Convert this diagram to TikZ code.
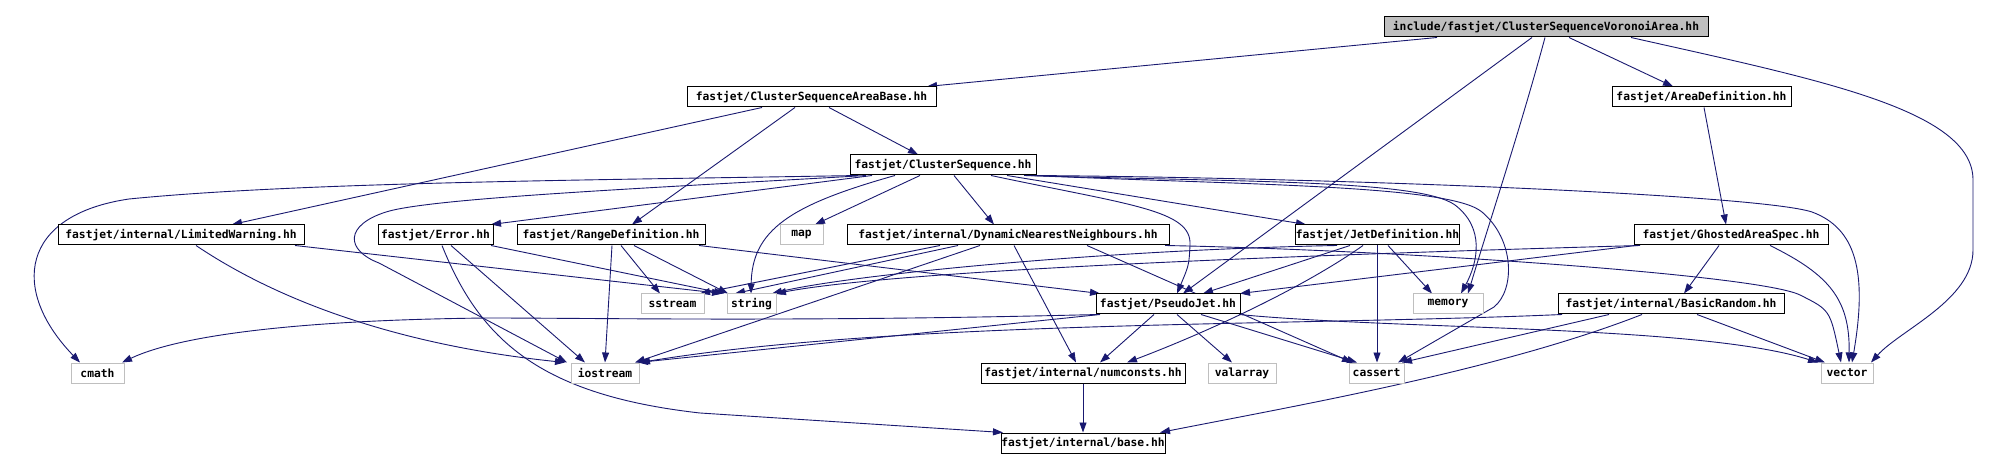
\documentclass[tikz,border=0pt]{standalone}
\usepackage{fontspec}
\setmonofont{DejaVu Sans Mono}
\usetikzlibrary{arrows.meta}
\definecolor{edgecol}{HTML}{191970}
\definecolor{sysgray}{HTML}{BFBFBF}
\pgfdeclarelayer{bglayer}
\pgfdeclarelayer{edgelayer}
\pgfsetlayers{bglayer,edgelayer,main}
\begin{document}
\begin{tikzpicture}[x=1pt,y=-1pt,
  hdr/.style={draw=black, fill=white, line width=1pt, minimum height=20pt, inner sep=0pt,
    font=\ttfamily\bfseries\fontsize{11.3}{13}\selectfont},
  sys/.style={hdr, draw=sysgray},
  root/.style={hdr, fill=sysgray},
  dep/.style={draw=edgecol, line width=0.9pt, -{Triangle[length=10pt,width=7pt]}}]
\begin{pgfonlayer}{bglayer}
\fill[white] (0,0) rectangle (1992,470);
\end{pgfonlayer}
\useasboundingbox (0,0) rectangle (1992,470);
% nodes
\node[root, minimum width=324pt] (top) at (1546,27) {include/fastjet/ClusterSequenceVoronoiArea.hh};
\node[hdr, minimum width=249pt] (csab) at (811.5,97) {fastjet/ClusterSequenceAreaBase.hh};
\node[hdr, minimum width=179pt] (areadef) at (1701.5,97) {fastjet/AreaDefinition.hh};
\node[hdr, minimum width=186pt] (cs) at (943,165) {fastjet/ClusterSequence.hh};
\node[hdr, minimum width=246pt] (lw) at (181,235) {fastjet/internal/LimitedWarning.hh};
\node[hdr, minimum width=115pt] (error) at (435.5,235) {fastjet/Error.hh};
\node[hdr, minimum width=188pt] (rangedef) at (611,235) {fastjet/RangeDefinition.hh};
\node[sys, minimum width=43pt] (map) at (801.5,235) {map};
\node[hdr, minimum width=322pt] (dnn) at (1008,235) {fastjet/internal/DynamicNearestNeighbours.hh};
\node[hdr, minimum width=163pt] (jetdef) at (1377.5,235) {fastjet/JetDefinition.hh};
\node[hdr, minimum width=194pt] (ghosted) at (1731,235) {fastjet/GhostedAreaSpec.hh};
\node[sys, minimum width=63pt] (sstream) at (672.5,304) {sstream};
\node[sys, minimum width=49pt] (string) at (751.5,304) {string};
\node[hdr, minimum width=144pt] (pj) at (1168,304) {fastjet/PseudoJet.hh};
\node[sys, minimum width=70pt] (memory) at (1448,304) {memory};
\node[hdr, minimum width=226pt] (br) at (1671,304) {fastjet/internal/BasicRandom.hh};
\node[sys, minimum width=53pt] (cmath) at (97.5,373) {cmath};
\node[sys, minimum width=68pt] (iostream) at (605,373) {iostream};
\node[hdr, minimum width=204pt] (numconsts) at (1083,373) {fastjet/internal/numconsts.hh};
\node[sys, minimum width=68pt] (valarray) at (1242,373) {valarray};
\node[sys, minimum width=55pt] (cassert) at (1376.5,373) {cassert};
\node[sys, minimum width=52pt] (vector) at (1847,373) {vector};
\node[hdr, minimum width=164pt] (base) at (1083,443) {fastjet/internal/base.hh};
% edges
\begin{pgfonlayer}{edgelayer}
% root
\draw[dep] (top.south -| 1437,0) -- (csab.north -| 927,0);
\draw[dep] (top.south -| 1532,0) -- (pj.north -| 1183,0);
\draw[dep] (top.south -| 1545,0) .. controls (1520,130) and (1490,220) .. (memory.north -| 1468,0);
\draw[dep] (top.south -| 1569,0) -- (areadef.north -| 1673,0);
\draw[dep] (top.south -| 1631,0) .. controls (1820,80) and (1973,110) .. (1973,180) -- (1973,250) .. controls (1973,300) and (1900,330) .. (vector.north -| 1871,0);
\draw[dep] (areadef.south -| 1704,0) -- (ghosted.north -| 1726,0);
% ClusterSequenceAreaBase
\draw[dep] (csab.south -| 762,0) -- (lw.north -| 232,0);
\draw[dep] (csab.south -| 795,0) -- (rangedef.north -| 632,0);
\draw[dep] (csab.south -| 829,0) -- (cs.north -| 918,0);
% ClusterSequence
\draw[dep] (cs.south -| 858,0) .. controls (600,180) and (300,182) .. (129,199) .. controls (20,215) and (10,290) .. (cmath.north -| 80,0);
\draw[dep] (cs.south -| 866,0) .. controls (650,188) and (430,198) .. (386,212) .. controls (345,225) and (345,250) .. (379,263) -- (iostream.north -| 567,0);
\draw[dep] (cs.south -| 872,0) -- (error.north -| 491,0);
\draw[dep] (cs.south -| 895,0) .. controls (790,205) and (752,230) .. (string.north -| 751,0);
\draw[dep] (cs.south -| 920,0) -- (map.north -| 815,0);
\draw[dep] (cs.south -| 954,0) -- (dnn.north -| 994,0);
\draw[dep] (cs.south -| 991,0) .. controls (1130,205) and (1192,210) .. (1190,245) .. controls (1189,265) .. (pj.north -| 1177,0);
\draw[dep] (cs.south -| 1007,0) -- (jetdef.north -| 1306,0);
\draw[dep] (cs.south -| 1024,0) .. controls (1250,182) and (1420,180) .. (1455,205) .. controls (1485,228) and (1478,262) .. (memory.north -| 1461,0);
\draw[dep] (cs.south -| 1030,0) .. controls (1250,185) and (1450,185) .. (1482,212) .. controls (1515,240) and (1515,290) .. (1494,307) -- (cassert.north -| 1398,0);
\draw[dep] (cs.south -| 1034,0) .. controls (1350,178) and (1760,195) .. (1812,212) .. controls (1855,228) and (1868,270) .. (vector.north -| 1852,0);
% LimitedWarning
\draw[dep] (lw.south -| 196,0) .. controls (240,275) and (350,340) .. (iostream.north -| 565,0);
\draw[dep] (lw.south -| 295,0) -- (string.north -| 722,0);
% Error
\draw[dep] (error.south -| 491,0) -- (string.north -| 724,0);
\draw[dep] (error.south -| 451,0) -- (iostream.north -| 585,0);
\draw[dep] (error.south -| 442,0) .. controls (480,340) and (540,395) .. (700,413) -- (base.north -| 1003,0);
% RangeDefinition
\draw[dep] (rangedef.south -| 612,0) -- (iostream.north -| 605,0);
\draw[dep] (rangedef.south -| 621,0) -- (sstream.north -| 660,0);
\draw[dep] (rangedef.south -| 634,0) -- (string.north -| 728,0);
\draw[dep] (rangedef.south -| 699,0) -- (pj.north -| 1100,0);
% DynamicNearestNeighbours
\draw[dep] (dnn.south -| 940,0) -- (sstream.north -| 700,0);
\draw[dep] (dnn.south -| 958,0) -- (string.north -| 735,0);
\draw[dep] (dnn.south -| 980,0) -- (iostream.north -| 635,0);
\draw[dep] (dnn.south -| 1014,0) -- (numconsts.north -| 1076,0);
\draw[dep] (dnn.south -| 1087,0) -- (cassert.north -| 1352,0);
\draw[dep] (dnn.south -| 1165,0) .. controls (1400,250) and (1760,275) .. (1800,295) .. controls (1830,310) .. (vector.north -| 1841,0);
% JetDefinition
\draw[dep] (jetdef.south -| 1337,0) .. controls (1100,250) and (850,275) .. (string.north -| 772,0);
\draw[dep] (jetdef.south -| 1350,0) -- (pj.north -| 1203,0);
\draw[dep] (jetdef.south -| 1363,0) .. controls (1300,290) and (1200,335) .. (numconsts.north -| 1127,0);
\draw[dep] (jetdef.south -| 1377,0) -- (cassert.north -| 1377,0);
\draw[dep] (jetdef.south -| 1388,0) -- (memory.north -| 1432,0);
% GhostedAreaSpec
\draw[dep] (ghosted.south -| 1640,0) .. controls (1300,255) and (900,270) .. (string.north -| 776,0);
\draw[dep] (ghosted.south -| 1636,0) -- (pj.north -| 1240,0);
\draw[dep] (ghosted.south -| 1719,0) -- (br.north -| 1684,0);
\draw[dep] (ghosted.south -| 1770,0) .. controls (1830,275) and (1850,300) .. (vector.north -| 1849,0);
% PseudoJet
\draw[dep] (pj.south -| 1100,0) -- (iostream.north -| 638,0);
\draw[dep] (pj.south -| 1098,0) .. controls (800,322) and (600,318) .. (487,318) .. controls (300,320) and (180,335) .. (cmath.north -| 122,0);
\draw[dep] (pj.south -| 1154,0) -- (numconsts.north -| 1100,0);
\draw[dep] (pj.south -| 1177,0) -- (valarray.north -| 1232,0);
\draw[dep] (pj.south -| 1201,0) -- (cassert.north -| 1357,0);
\draw[dep] (pj.south -| 1239,0) .. controls (1400,330) and (1700,325) .. (vector.north -| 1818,0);
% BasicRandom
\draw[dep] (br.south -| 1562,0) .. controls (1300,326) and (900,320) .. (iostream.north -| 640,0);
\draw[dep] (br.south -| 1609,0) -- (cassert.north -| 1402,0);
\draw[dep] (br.south -| 1697,0) -- (vector.north -| 1825,0);
\draw[dep] (br.south -| 1642,0) .. controls (1500,370) and (1300,405) .. (base.north -| 1160,0);
% numconsts
\draw[dep] (numconsts.south) -- (base.north);
\end{pgfonlayer}
\end{tikzpicture}
\end{document}
